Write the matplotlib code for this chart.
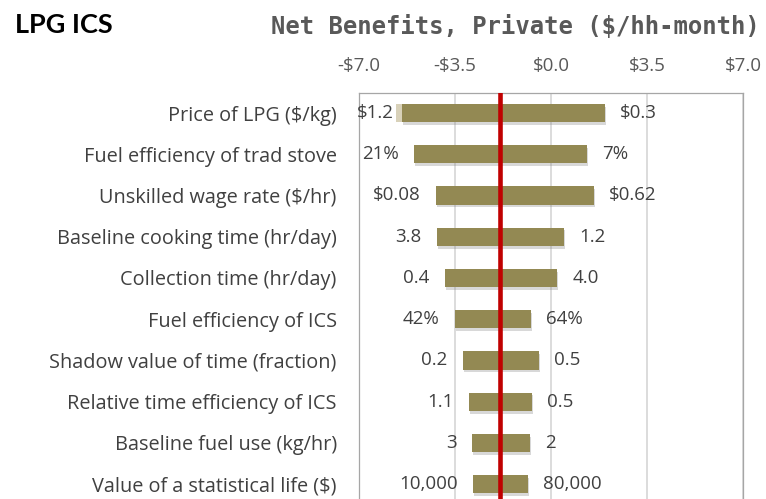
#!/usr/bin/python3
"""Tornado chart: LPG ICS private net benefits sensitivity."""

import matplotlib
matplotlib.use("Agg")
import matplotlib.pyplot as plt
import matplotlib.patheffects as pe

params = [
    "Price of LPG ($/kg)",
    "Fuel efficiency of trad stove",
    "Unskilled wage rate ($/hr)",
    "Baseline cooking time (hr/day)",
    "Collection time (hr/day)",
    "Fuel efficiency of ICS",
    "Shadow value of time (fraction)",
    "Relative time efficiency of ICS",
    "Baseline fuel use (kg/hr)",
    "Value of a statistical life ($)",
]
low_vals = [-5.43, -5.00, -4.20, -4.16, -3.87, -3.50, -3.21, -2.99, -2.88, -2.85]
high_vals = [1.97, 1.31, 1.57, 0.47, 0.22, -0.73, -0.44, -0.69, -0.77, -0.84]
low_labels = ["$1.2", "21%", "$0.08", "3.8", "0.4", "42%", "0.2", "1.1", "3", "10,000"]
high_labels = ["$0.3", "7%", "$0.62", "1.2", "4.0", "64%", "0.5", "0.5", "2", "80,000"]
lpg_shade_low = -5.65   # faint extra segment at the end of the first bar
base_value = -1.86
xticks = [-7, -3.5, 0, 3.5, 7]
xtick_labels = ["-$7.0", "-$3.5", "$0.0", "$3.5", "$7.0"]

OLIVE = "#938953"
GRAY = "#595959"
TEXT = "#404040"

fig = plt.figure(figsize=(7.66, 4.99), dpi=100)
ax = fig.add_axes([359 / 766, 0, 384 / 766, 1 - 93 / 499])

rows = list(range(len(params)))
shadow = [pe.SimplePatchShadow(offset=(0.8, -2), shadow_rgbFace="#808080", alpha=0.3),
          pe.Normal()]

ax.barh(0, base_value - lpg_shade_low, left=lpg_shade_low, height=0.44,
        color="#d8d1b9", zorder=2)
for i in rows:
    b = ax.barh(i, high_vals[i] - low_vals[i], left=low_vals[i], height=0.44,
                color=OLIVE, zorder=3)
    b[0].set_path_effects(shadow)
    left_x = lpg_shade_low if i == 0 else low_vals[i]
    left_off = -2 if i == 0 else -11
    ax.annotate(low_labels[i], (left_x, i), xytext=(left_off, 0),
                textcoords="offset points", ha="right", va="center",
                fontsize=13.5, color=TEXT, family="Open Sans")
    ax.annotate(high_labels[i], (high_vals[i], i), xytext=(11, 0),
                textcoords="offset points", ha="left", va="center",
                fontsize=13.5, color=TEXT, family="Open Sans")

ax.axvline(base_value, color="#c00000", lw=3.3, zorder=5)

ax.set_xlim(-7, 7)
ax.set_ylim(9.36, -0.485)
ax.set_xticks(xticks)
ax.set_xticklabels(xtick_labels, fontsize=13.5, color=GRAY, family="Open Sans")
ax.xaxis.tick_top()
ax.tick_params(axis="x", length=0, pad=13)
ax.set_yticks(rows)
ax.set_yticklabels(params, fontsize=14.3, color=TEXT, family="Open Sans")
ax.tick_params(axis="y", length=0, pad=16)
ax.grid(axis="x", color="#d9d9d9", lw=1.3, zorder=0)
ax.set_axisbelow(True)
for side in ["left", "right", "top"]:
    ax.spines[side].set_color("#a6a6a6")
    ax.spines[side].set_linewidth(0.9)
ax.spines["bottom"].set_visible(False)

fig.text(15 / 766, 1 - 25 / 499, "LPG ICS", fontsize=19.5, fontweight="bold",
         ha="left", va="center", family="Lato")
fig.text(515 / 766, 1 - 27 / 499, "Net Benefits, Private ($/hh-month)",
         fontsize=17.2, fontweight="bold", color=GRAY, ha="center", va="center",
         family="DejaVu Sans Mono")

fig.savefig("out.png", dpi=100)
